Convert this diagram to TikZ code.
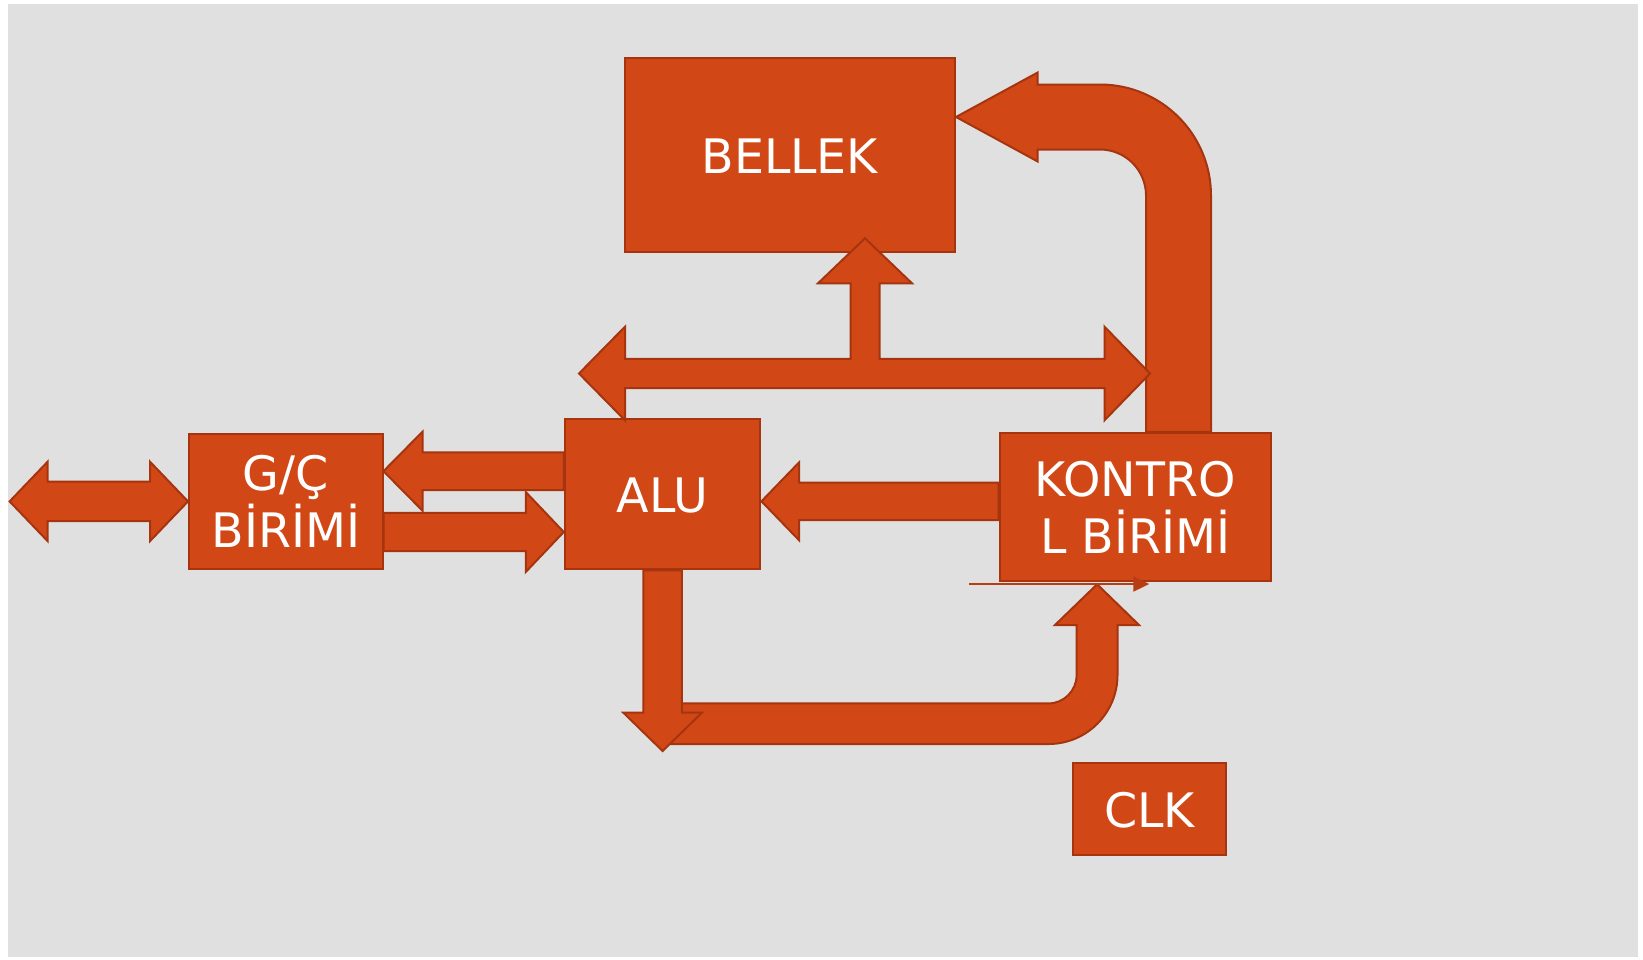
\documentclass[tikz,border=0pt]{standalone}
\usepackage{fontspec}
\setmainfont{DejaVu Sans}
\usetikzlibrary{calc,arrows.meta}
\definecolor{unitfill}{HTML}{D14816}
\definecolor{unitedge}{HTML}{A5340F}
\definecolor{bggray}{HTML}{E0E0E0}

% block arrow: tail, tip, shaft half width, head half width, head length
\newcommand{\blockarrow}[5]{%
  \coordinate (ba-h) at ($(#2)!#5!(#1)$);
  \filldraw[blk] ($(#1)!#3!90:(#2)$) -- ($(ba-h)!#3!90:(#2)$) -- ($(ba-h)!#4!90:(#2)$)
    -- (#2) -- ($(ba-h)!#4!-90:(#2)$) -- ($(ba-h)!#3!-90:(#2)$) -- ($(#1)!#3!-90:(#2)$) -- cycle;}
% same with a head at both ends
\newcommand{\dblarrow}[5]{%
  \coordinate (ba-a) at ($(#1)!#5!(#2)$);
  \coordinate (ba-b) at ($(#2)!#5!(#1)$);
  \filldraw[blk] (#1) -- ($(ba-a)!#4!90:(#2)$) -- ($(ba-a)!#3!90:(#2)$) -- ($(ba-b)!#3!90:(#2)$)
    -- ($(ba-b)!#4!90:(#2)$) -- (#2) -- ($(ba-b)!#4!-90:(#2)$) -- ($(ba-b)!#3!-90:(#2)$)
    -- ($(ba-a)!#3!-90:(#2)$) -- ($(ba-a)!#4!-90:(#2)$) -- cycle;}

\begin{document}
\begin{tikzpicture}[x=1pt, y=-1pt,
    blk/.style={fill=unitfill, draw=unitedge, line width=2pt},
    unit/.style={blk, text=white, align=center, inner sep=0pt,
                 font=\fontsize{47.5}{57}\selectfont},
    oneline/.style={unit, text height=37.5pt},
    wire/.style={draw=unitedge!55!unitfill, line width=2pt,
                 -{Triangle[length=16pt, width=15pt]}},
  ]
  \useasboundingbox (0,0) rectangle (1643,959);
  \fill[white] (0,0) rectangle (1643,959);
  \fill[bggray] (8,4) rectangle (1638,957);

  % units
  \node[oneline, minimum width=330.5pt, minimum height=193.4pt] (bel) at (789.75,155) {BELLEK};
  \node[unit, minimum width=193.5pt, minimum height=135.8pt] (gc) at (285.75,501.4) {G/Ç\\BİRİMİ};
  \node[oneline, minimum width=195.7pt, minimum height=150.8pt] (alu) at (662.6,493.9) {ALU};
  \node[unit, minimum width=271.2pt, minimum height=148.1pt] (kb) at (1135.1,506.95) {KONTRO\\L BİRİMİ};
  \node[oneline, minimum width=152.7pt, minimum height=92.3pt] (clk) at (1149.65,808.85) {CLK};

  % free ends and offsets of the connectors
  \coordinate (ioL) at (9.6,501.4);
  \coordinate (a2gS) at ($(alu.west)+(0,-22.7)$);
  \coordinate (a2gE) at ($(gc.east)+(0,-30.2)$);
  \coordinate (g2aS) at ($(gc.east)+(0,30.6)$);
  \coordinate (g2aE) at ($(alu.west)+(0,38.1)$);
  \coordinate (k2aS) at ($(kb.west)+(0,-5.65)$);
  \coordinate (k2aE) at ($(alu.east)+(0,7.4)$);
  \coordinate (aluD) at ($(alu.south)+(0,180.7)$);
  \coordinate (kbB) at ($(kb.south)+(-38,2.3)$);
  \coordinate (kbS) at ($(kb.north)+(43.4,0)$);
  \coordinate (belT) at ($(bel.east)+(0,-38)$);
  \coordinate (busL) at (579,373.5);
  \coordinate (busR) at (1150,373.5);
  \coordinate (busT) at (865,238.3);
  \coordinate (thinS) at (969.3,584);
  \coordinate (thinE) at (1149.3,584);

  % control unit back to memory
  \filldraw[blk] (belT) -- (1037.7,72.5) -- (1037.7,84.5) -- (1100,84.5)
    .. controls (1161.3,84.5) and (1211,134.2) .. (1211,195.5)
    -- ($(kbS)+(32.5,0)$) -- ($(kbS)+(-32.5,0)$) -- (1146,195.5)
    .. controls (1146,170.1) and (1125.4,149.5) .. (1100,149.5)
    -- (1037.7,149.5) -- (1037.7,161.5) -- cycle;

  % data bus
  \filldraw[blk] (busL) -- ++(46,-46.8) -- ++(0,32.1) -| ($(busT)+(-14.5,45)$)
    -- ++(-32.5,0) -- (busT) -- ++(47,45) -- ++(-32.5,0) |- ($(busR)+(-45.5,-14.7)$)
    -- ++(0,-32.1) -- (busR) -- ++(-45.5,46.8) -- ++(0,-32.1)
    -- ($(busL)+(46,14.7)$) -- ++(0,32.1) -- cycle;

  % ALU result to control unit
  \filldraw[blk] (662.5,703.4) -- (1048.5,703.4)
    .. controls (1064.1,703.4) and (1076.6,690.6) .. (1076.6,675) -- (1076.6,625)
    -- (1055,625) -- (kbB) -- (1139,625) -- (1117.5,625) -- (1117.5,675)
    .. controls (1117.5,713.1) and (1086.6,744) .. (1048.5,744) -- (662.5,744) -- cycle;
  \blockarrow{alu.south}{aluD}{19.15pt}{39.25pt}{38.3pt}

  \dblarrow{ioL}{gc.west}{19.7pt}{39.7pt}{38pt}
  \blockarrow{a2gS}{a2gE}{18.9pt}{39.5pt}{39pt}
  \blockarrow{g2aS}{g2aE}{19.2pt}{40pt}{38pt}
  \blockarrow{k2aS}{k2aE}{18.7pt}{39pt}{37.7pt}

  \draw[wire] (thinS) -- (thinE);
\end{tikzpicture}
\end{document}
